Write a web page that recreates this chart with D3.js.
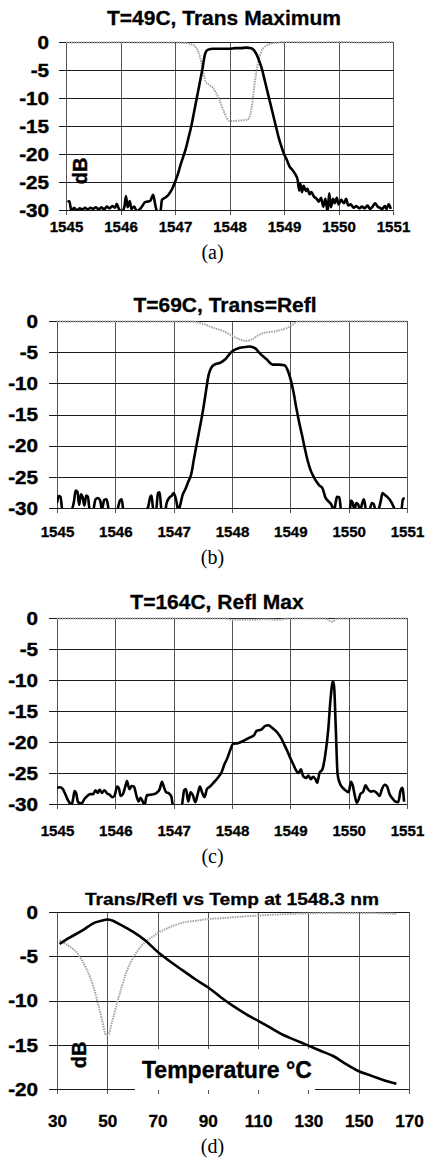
<!DOCTYPE html>
<html>
<head>
<meta charset="utf-8">
<script src="https://cdn.jsdelivr.net/npm/d3@7"></script>
<style>
	body { margin: 0; background: #fff; }
	svg { display: block; }
</style>
</head>
<body>
<svg id="chart" width="425" height="1165"></svg>
<script>
// --- DATA --- //
var wlTicks = [1545, 1546, 1547, 1548, 1549, 1550, 1551],
	dbTicks = [0, -5, -10, -15, -20, -25, -30],
	tempTicks = [30, 50, 70, 90, 110, 130, 150, 170],
	dbTicksD = [0, -5, -10, -15, -20];

var titles = ["T=49C, Trans Maximum", "T=69C, Trans=Refl", "T=164C, Refl Max", "Trans/Refl vs Temp at 1548.3 nm"],
	captions = ["(a)", "(b)", "(c)", "(d)"];

// (a) wavelength (nm), dB
var transA = [[1545.03,-28.6],[1545.06,-28.4],[1545.1,-30.2],[1545.15,-29.6],[1545.2,-30.1],[1545.25,-29.7],[1545.3,-29.9],[1545.35,-29.6],[1545.4,-29.9],[1545.45,-29.6],[1545.5,-29.8],[1545.55,-29.5],[1545.6,-29.9],[1545.65,-29.5],[1545.7,-29.9],[1545.75,-29.4],[1545.8,-29.7],[1545.85,-29.3],[1545.9,-29.6],[1545.93,-28.9],[1545.97,-29.8],[1546.02,-30.3],[1546.07,-29.5],[1546.1,-27.5],[1546.13,-29.5],[1546.17,-28.4],[1546.2,-29.8],[1546.25,-29.4],[1546.3,-30.2],[1546.35,-29.9],[1546.4,-29.3],[1546.45,-28.6],[1546.5,-28.5],[1546.55,-28.3],[1546.6,-27.3],[1546.64,-29.2],[1546.68,-30.5],[1546.73,-30.5],[1546.76,-28.2],[1546.8,-27.9],[1546.85,-27.6],[1546.9,-27],[1546.95,-26.2],[1547.0,-25],[1547.05,-23.7],[1547.1,-22],[1547.15,-20.5],[1547.2,-19],[1547.25,-17],[1547.3,-15],[1547.35,-12.5],[1547.4,-10],[1547.45,-7.5],[1547.5,-5],[1547.55,-2.2],[1547.6,-1.4],[1547.7,-1.2],[1547.8,-1.2],[1547.9,-1.2],[1548.0,-1.2],[1548.1,-1.1],[1548.2,-1.1],[1548.3,-1.0],[1548.4,-1.1],[1548.45,-1.5],[1548.5,-2.3],[1548.55,-3.5],[1548.6,-5],[1548.65,-7],[1548.7,-9],[1548.75,-11],[1548.8,-13],[1548.85,-15],[1548.9,-17],[1548.95,-18.6],[1549.0,-20],[1549.05,-21],[1549.1,-22.2],[1549.15,-22.8],[1549.2,-23.5],[1549.25,-24.6],[1549.28,-26.5],[1549.3,-25.3],[1549.33,-26.8],[1549.36,-25.7],[1549.4,-26.6],[1549.43,-26.2],[1549.47,-27.2],[1549.5,-26.8],[1549.55,-27.6],[1549.6,-28],[1549.64,-28.5],[1549.68,-27.8],[1549.72,-29.4],[1549.76,-28],[1549.8,-30.3],[1549.83,-27],[1549.86,-29.5],[1549.9,-28],[1549.93,-28.8],[1549.97,-27.8],[1550.0,-29],[1550.05,-28.2],[1550.1,-28.8],[1550.14,-28],[1550.18,-29.2],[1550.22,-29],[1550.28,-29.6],[1550.33,-29.3],[1550.38,-29.7],[1550.43,-29.4],[1550.48,-29.7],[1550.53,-29.2],[1550.58,-29.8],[1550.62,-29.5],[1550.67,-28.8],[1550.72,-29.4],[1550.76,-29.6],[1550.8,-29.8],[1550.85,-29.3],[1550.88,-29.8],[1550.92,-29],[1550.96,-29.8]];
var reflA = [[1545,-0.1],[1545.5,-0.1],[1546,-0.05],[1546.5,-0.1],[1547,-0.1],[1547.2,-0.2],[1547.3,-0.4],[1547.38,-0.9],[1547.43,-1.8],[1547.48,-3.5],[1547.52,-5.5],[1547.56,-7],[1547.62,-7.6],[1547.7,-8.2],[1547.76,-9.2],[1547.82,-10.5],[1547.88,-12],[1547.94,-13.4],[1548.0,-14.1],[1548.1,-14.1],[1548.2,-14],[1548.3,-13.9],[1548.36,-13.6],[1548.4,-12],[1548.43,-10],[1548.46,-7.5],[1548.5,-5],[1548.54,-3],[1548.58,-1.8],[1548.63,-1],[1548.7,-0.5],[1548.8,-0.2],[1548.9,-0.1],[1549,0],[1549.5,-0.05],[1550,0],[1550.5,-0.1],[1551,0]];

// (b)
var transB = [[1545.0,-29.2],[1545.03,-28.1],[1545.06,-28.2],[1545.09,-30.2],[1545.15,-30.4],[1545.2,-30.5],[1545.25,-30.3],[1545.29,-29],[1545.32,-27.2],[1545.35,-27.4],[1545.38,-29.5],[1545.41,-27.8],[1545.44,-28.3],[1545.47,-29.6],[1545.5,-28],[1545.53,-28.2],[1545.56,-30.3],[1545.62,-30.3],[1545.66,-28.6],[1545.7,-28.4],[1545.74,-28.8],[1545.77,-30.2],[1545.81,-28.7],[1545.85,-28.6],[1545.89,-30.3],[1545.95,-30.6],[1546.02,-30.6],[1546.08,-28.8],[1546.11,-28.6],[1546.14,-30.5],[1546.3,-30.6],[1546.5,-30.5],[1546.56,-29.9],[1546.6,-28.2],[1546.62,-28],[1546.65,-30.2],[1546.7,-30.3],[1546.73,-27.6],[1546.76,-27.5],[1546.79,-30.2],[1546.85,-30.5],[1546.88,-29.2],[1546.93,-28.3],[1546.97,-28],[1547.0,-27.6],[1547.04,-28.6],[1547.08,-30.4],[1547.11,-29.6],[1547.15,-28],[1547.2,-27],[1547.25,-25.8],[1547.3,-24.6],[1547.35,-22],[1547.4,-19.5],[1547.45,-17],[1547.5,-14.5],[1547.55,-11.5],[1547.6,-8.6],[1547.65,-7.4],[1547.7,-7],[1547.8,-6.7],[1547.85,-6.4],[1547.9,-6],[1547.95,-5.4],[1548.0,-4.9],[1548.05,-4.6],[1548.1,-4.4],[1548.2,-4.2],[1548.3,-4.1],[1548.4,-4.4],[1548.45,-4.9],[1548.5,-5.4],[1548.55,-5.8],[1548.6,-6.2],[1548.65,-6.7],[1548.7,-7],[1548.8,-7],[1548.9,-7.1],[1548.95,-7.8],[1549.0,-9.2],[1549.05,-11.2],[1549.1,-13.8],[1549.15,-16.2],[1549.2,-18.3],[1549.25,-20.5],[1549.3,-22.5],[1549.35,-24],[1549.4,-25],[1549.45,-25.8],[1549.5,-26.4],[1549.55,-26.8],[1549.6,-28.3],[1549.65,-28.9],[1549.7,-29.4],[1549.75,-30.4],[1549.78,-29],[1549.8,-28.2],[1549.84,-28.3],[1549.87,-30.3],[1549.95,-30.6],[1550.02,-30.4],[1550.04,-28.8],[1550.07,-29.2],[1550.1,-30.3],[1550.13,-29.2],[1550.16,-29.4],[1550.2,-30.3],[1550.23,-29.3],[1550.26,-28.6],[1550.3,-30.3],[1550.35,-30.4],[1550.4,-29.2],[1550.43,-29.4],[1550.46,-30.3],[1550.5,-30.4],[1550.55,-28.9],[1550.58,-27.6],[1550.62,-27.9],[1550.66,-28.2],[1550.7,-28.6],[1550.75,-29.4],[1550.8,-30.3],[1550.9,-30.5],[1550.93,-28.6],[1550.96,-28.4]];
var reflB = [[1545,-0.1],[1546,-0.1],[1547,-0.1],[1547.35,-0.1],[1547.45,-0.3],[1547.55,-0.6],[1547.65,-1],[1547.75,-1.3],[1547.85,-1.6],[1547.95,-2.1],[1548.05,-2.6],[1548.15,-3],[1548.25,-3.2],[1548.35,-2.9],[1548.45,-2.3],[1548.55,-1.9],[1548.7,-1.7],[1548.85,-1.4],[1548.95,-1.1],[1549.05,-0.5],[1549.12,-0.1],[1549.5,-0.1],[1550,-0.05],[1551,-0.1]];

// (c)
var transC = [[1545.0,-27.4],[1545.05,-27.3],[1545.1,-27.6],[1545.15,-28.6],[1545.2,-29.6],[1545.25,-30.1],[1545.28,-29],[1545.3,-27.9],[1545.33,-28.3],[1545.36,-29.7],[1545.42,-29.9],[1545.47,-29.2],[1545.52,-28.7],[1545.57,-28.4],[1545.62,-28.4],[1545.66,-27.8],[1545.7,-28.2],[1545.73,-27.7],[1545.77,-28.2],[1545.81,-27.8],[1545.86,-28.3],[1545.9,-28.5],[1545.95,-28.9],[1545.99,-28.6],[1546.03,-27.2],[1546.06,-27.4],[1546.09,-28.7],[1546.13,-28.4],[1546.17,-27.2],[1546.2,-26.3],[1546.24,-27.6],[1546.28,-27.1],[1546.32,-27.2],[1546.36,-28.6],[1546.4,-29.6],[1546.43,-29],[1546.47,-29.6],[1546.5,-30.2],[1546.54,-28.6],[1546.6,-28.5],[1546.67,-28.4],[1546.72,-28.1],[1546.76,-27.6],[1546.8,-26.4],[1546.83,-27.2],[1546.87,-28.1],[1546.92,-28.3],[1546.96,-28.8],[1546.99,-30.4],[1547.1,-30.6],[1547.14,-30.2],[1547.18,-27.8],[1547.21,-27.6],[1547.25,-29.6],[1547.29,-28.1],[1547.33,-28.6],[1547.37,-29.7],[1547.41,-28.5],[1547.45,-27.2],[1547.49,-28.2],[1547.53,-28.9],[1547.57,-27.6],[1547.62,-27.2],[1547.67,-26.7],[1547.72,-26.2],[1547.77,-25.6],[1547.82,-24.9],[1547.87,-23.6],[1547.92,-22.6],[1547.97,-21.3],[1548.02,-20.3],[1548.1,-20.2],[1548.2,-19.8],[1548.3,-19.3],[1548.38,-18.9],[1548.42,-18.2],[1548.5,-18],[1548.57,-17.4],[1548.62,-17.3],[1548.7,-17.8],[1548.78,-18.5],[1548.85,-19.5],[1548.9,-20.5],[1548.95,-21.5],[1549.0,-22.6],[1549.05,-23.6],[1549.1,-24.6],[1549.14,-25],[1549.18,-24.4],[1549.22,-25.5],[1549.27,-25.8],[1549.31,-25.4],[1549.35,-26],[1549.39,-25.6],[1549.43,-26],[1549.46,-26.6],[1549.5,-25],[1549.55,-24.4],[1549.6,-22],[1549.65,-18],[1549.69,-13],[1549.73,-10.2],[1549.75,-11],[1549.78,-18],[1549.81,-25.2],[1549.85,-26.7],[1549.9,-27.4],[1549.96,-27.9],[1550.0,-28.1],[1550.04,-26.4],[1550.07,-27],[1550.1,-28.4],[1550.14,-29.8],[1550.17,-29.3],[1550.2,-28.4],[1550.25,-28],[1550.29,-27],[1550.33,-27.6],[1550.38,-28],[1550.43,-27.9],[1550.48,-28.2],[1550.53,-28.7],[1550.57,-27.6],[1550.62,-26.9],[1550.66,-27.2],[1550.7,-28.4],[1550.75,-29.1],[1550.8,-29.6],[1550.85,-29.7],[1550.89,-27.8],[1550.92,-27.4],[1550.95,-29.6]];
var reflC = [[1545,-0.1],[1546,-0.1],[1547,-0.1],[1547.9,-0.1],[1548.0,-0.3],[1548.3,-0.3],[1548.6,-0.2],[1548.8,-0.3],[1548.95,-0.1],[1549.6,-0.1],[1549.72,-0.6],[1549.8,-0.1],[1551,-0.1]];

// (d) temperature (C), dB at 1548.3 nm
var transD = [[31,-3.6],[35,-2.9],[40,-2.1],[45,-1.2],[48,-0.95],[50,-0.85],[52,-0.95],[55,-1.4],[60,-2.2],[65,-3.2],[70,-4.5],[75,-5.6],[80,-6.6],[85,-7.6],[90,-8.5],[95,-9.6],[100,-10.6],[105,-11.5],[110,-12.3],[115,-13.1],[120,-13.9],[125,-14.5],[130,-15.1],[135,-15.7],[140,-16.3],[145,-17.2],[150,-18.0],[155,-18.5],[160,-19.0],[165,-19.4]];
var reflD = [[31,-3.2],[35,-3.9],[38,-4.6],[40,-5.5],[42,-6.6],[44,-8],[46,-10],[48,-12.3],[49.5,-13.9],[50.5,-13.8],[52,-12.3],[54,-10.2],[56,-8.2],[58,-6.5],[60,-5.3],[62,-4.4],[65,-3.4],[68,-2.8],[70,-2.4],[75,-1.7],[80,-1.2],[85,-1.0],[90,-0.8],[95,-0.7],[100,-0.6],[110,-0.4],[120,-0.25],[130,-0.15],[140,-0.1],[150,-0.1],[160,-0.15],[165,-0.2]];

// --- LAYOUT --- //
var sans = "'Liberation Sans', Arial, sans-serif",
	serif = "'Liberation Serif', 'Times New Roman', serif";

var panels = [
	{ left: 66, right: 393, top: 42, bottom: 210, xDomain: [1545, 1551], yDomain: [-30, 0],
	  xTicks: wlTicks, yTicks: dbTicks, xLabelY: 232, xFont: 14.5, labelGap: 17, tickLeft: 7,
	  titleX: 224, titleY: 25, captionY: 259, trans: transA, refl: reflA, dB: [80, 171] },
	{ left: 57, right: 407, top: 321, bottom: 508, xDomain: [1545, 1551], yDomain: [-30, 0],
	  xTicks: wlTicks, yTicks: dbTicks, xLabelY: 537, xFont: 14.5, labelGap: 19, tickLeft: 8,
	  titleX: 225, titleY: 312, captionY: 564, trans: transB, refl: reflB },
	{ left: 57, right: 407, top: 618, bottom: 804, xDomain: [1545, 1551], yDomain: [-30, 0],
	  xTicks: wlTicks, yTicks: dbTicks, xLabelY: 836, xFont: 14.5, labelGap: 19, tickLeft: 8,
	  titleX: 217, titleY: 609, captionY: 863, trans: transC, refl: reflC },
	{ left: 57, right: 409, top: 912, bottom: 1089, xDomain: [30, 170], yDomain: [-20, 0],
	  xTicks: tempTicks, yTicks: dbTicksD, xLabelY: 1127, xFont: 16.5, labelGap: 19, tickLeft: 8,
	  titleX: 232, titleY: 905, titleSize: 17, titleLen: 294, captionY: 1153,
	  trans: transD, refl: reflD, dB: [79, 1055], xLabel: true }
];

var svg = d3.select("#chart");

// Widen text to match the scanned glyphs
function stretch(sel, k) {
	sel.each(function() {
		var len = this.getComputedTextLength();
		d3.select(this).attr("textLength", len * k).attr("lengthAdjust", "spacingAndGlyphs");
	});
}

// Scanned bold text is heavier than the font's bold
function heavy(sel, w) {
	sel.attr("font-weight", "bold").attr("fill", "#000")
		.attr("stroke", "#000").attr("stroke-width", w).attr("paint-order", "stroke");
}

panels.forEach(function(p, i) {
	var g = svg.append("g"),
		x = d3.scaleLinear().domain(p.xDomain).range([p.left, p.right]),
		y = d3.scaleLinear().domain(p.yDomain).range([p.bottom, p.top]);

	// --- VERTICAL GRID + X TICKS --- //
	var gx = g.append("g")
		.attr("transform", "translate(0," + p.bottom + ")")
		.attr("font-family", sans)
		.call(d3.axisBottom(x).tickValues(p.xTicks).tickSize(-(p.bottom - p.top))
			.tickFormat(function(d) { return String(d); }));
	gx.select(".domain").remove();
	gx.selectAll("line").attr("y1", 5).attr("stroke", "#555").attr("shape-rendering", "crispEdges");
	gx.selectAll("text")
		.attr("y", p.xLabelY - p.bottom).attr("dy", 0)
		.attr("font-size", p.xFont)
		.call(heavy, 0.3)
		.call(stretch, 1.04);

	// --- HORIZONTAL GRID + Y TICKS --- //
	var gy = g.append("g")
		.attr("transform", "translate(" + p.left + ",0)")
		.attr("font-family", sans)
		.call(d3.axisLeft(y).tickValues(p.yTicks).tickSize(-(p.right - p.left))
			.tickFormat(function(d) { return String(d); }));
	gy.select(".domain").remove();
	gy.selectAll("line").attr("x1", -p.tickLeft).attr("stroke", "#1a1a1a").attr("shape-rendering", "crispEdges");
	gy.selectAll("text")
		.attr("x", -p.labelGap).attr("dy", "0.36em")
		.attr("font-size", 17.5)
		.call(heavy, 0.4)
		.call(stretch, 1.18);

	// Temperature label sits on a white box over the axis
	if (p.xLabel) {
		g.append("rect").attr("x", 135).attr("y", 1049).attr("width", 180).attr("height", 41).attr("fill", "#fff");
		g.append("text").attr("x", 142).attr("y", 1078)
			.attr("font-family", sans).attr("font-size", 23)
			.call(heavy, 0.4)
			.text("Temperature \u00B0C");
	}

	// --- CURVES --- //
	var clipId = "clip" + i;
	g.append("clipPath").attr("id", clipId).append("rect")
		.attr("x", p.left).attr("y", p.top - 3)
		.attr("width", p.right - p.left).attr("height", p.bottom - p.top + 3);

	var line = d3.line()
		.x(function(d) { return x(d[0]); })
		.y(function(d) { return y(d[1]); })
		.curve(d3.curveMonotoneX);

	g.append("path").datum(p.refl)
		.attr("clip-path", "url(#" + clipId + ")")
		.attr("fill", "none").attr("stroke", "#a3a3a3")
		.attr("stroke-width", 2).attr("stroke-dasharray", "1.5,1")
		.attr("d", line);

	g.append("path").datum(p.trans)
		.attr("clip-path", "url(#" + clipId + ")")
		.attr("fill", "none").attr("stroke", "#000")
		.attr("stroke-width", 2.6).attr("stroke-linejoin", "round")
		.attr("d", line);

	// --- LABELS --- //
	if (p.dB) {
		g.append("text")
			.attr("transform", "translate(" + p.dB[0] + "," + p.dB[1] + ") rotate(-90)")
			.attr("text-anchor", "middle").attr("dominant-baseline", "central")
			.attr("font-family", sans).attr("font-size", 20)
			.call(heavy, 0.4)
			.text("dB");
	}

	var title = g.append("text")
		.attr("x", p.titleX).attr("y", p.titleY)
		.attr("text-anchor", "middle")
		.attr("font-family", sans).attr("font-size", p.titleSize || 21)
		.call(heavy, 0.3)
		.text(titles[i]);
	if (p.titleLen) title.attr("textLength", p.titleLen).attr("lengthAdjust", "spacingAndGlyphs");

	g.append("text")
		.attr("x", 212.5).attr("y", p.captionY)
		.attr("text-anchor", "middle")
		.attr("font-family", serif).attr("font-size", 20)
		.text(captions[i]);
});
</script>
</body>
</html>
